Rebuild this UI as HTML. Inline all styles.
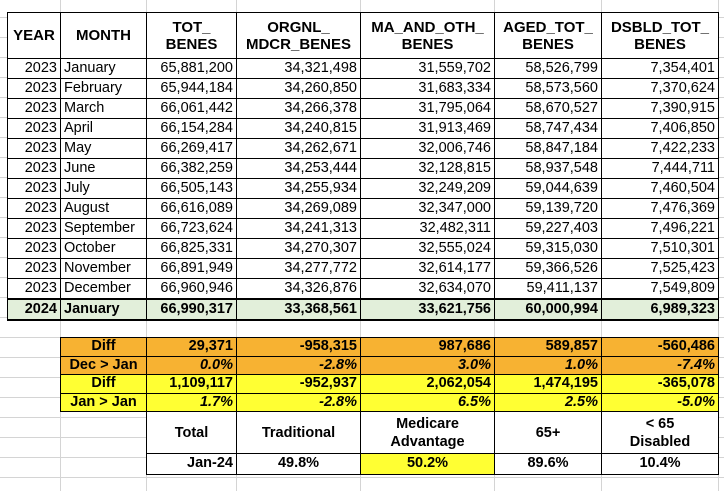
<!DOCTYPE html>
<html><head><style>
body{margin:0;width:724px;height:491px;overflow:hidden;background:#fff;position:relative;font-family:"Liberation Sans",Arial,sans-serif;}
.grid{position:absolute;left:0;top:0;width:724px;height:491px;
background-image:linear-gradient(#d4d4d4 1px,transparent 1px);background-size:100% 20px;background-position:0 -3px;}
.v{position:absolute;top:0;height:491px;width:1px;background:#d4d4d4}
table{position:absolute;border-collapse:collapse;font-size:14.5px;}
td{border:1.5px solid #000;padding:0 3px;white-space:nowrap;}
#main{left:7px;top:12px;background:#fff}
#main td{height:19px;line-height:19px;text-align:right}
#main tr.h td{height:45px;line-height:17px;font-weight:bold;text-align:center;font-size:15px}
#main tr.g td{background:#e2efda;font-weight:bold;border-top:2.5px solid #000;border-bottom:2.5px solid #000}
#main td.m{text-align:left}
#bot{left:60px;top:337px}
#bot td{font-weight:bold;text-align:right;height:17.5px;line-height:17.5px}
#bot td.c{text-align:center}
.o td{background:#f7b232}
.y td{background:#ffff33}
.i{font-style:italic}
#bot tr.l td{height:41px;line-height:18px;text-align:center;background:#fff}
#bot tr.j td{height:20px;text-align:center;background:#fff}
#bot td.n{border:none;background:transparent!important}
</style></head><body>
<div class="grid"></div>
<div class="v" style="left:60px"></div><div class="v" style="left:146px"></div><div class="v" style="left:236px"></div><div class="v" style="left:360px"></div><div class="v" style="left:494px"></div><div class="v" style="left:601px"></div><div class="v" style="left:718px"></div>
<table id="main">
<colgroup><col style="width:53px"><col style="width:86px"><col style="width:90px"><col style="width:124px"><col style="width:134px"><col style="width:107px"><col style="width:117px"></colgroup>
<tr class="h"><td>YEAR</td><td>MONTH</td><td>TOT_<br>BENES</td><td>ORGNL_<br>MDCR_BENES</td><td>MA_AND_OTH_<br>BENES</td><td>AGED_TOT_<br>BENES</td><td>DSBLD_TOT_<br>BENES</td></tr>
<tr><td>2023</td><td class="m">January</td><td>65,881,200</td><td>34,321,498</td><td>31,559,702</td><td>58,526,799</td><td>7,354,401</td></tr>
<tr><td>2023</td><td class="m">February</td><td>65,944,184</td><td>34,260,850</td><td>31,683,334</td><td>58,573,560</td><td>7,370,624</td></tr>
<tr><td>2023</td><td class="m">March</td><td>66,061,442</td><td>34,266,378</td><td>31,795,064</td><td>58,670,527</td><td>7,390,915</td></tr>
<tr><td>2023</td><td class="m">April</td><td>66,154,284</td><td>34,240,815</td><td>31,913,469</td><td>58,747,434</td><td>7,406,850</td></tr>
<tr><td>2023</td><td class="m">May</td><td>66,269,417</td><td>34,262,671</td><td>32,006,746</td><td>58,847,184</td><td>7,422,233</td></tr>
<tr><td>2023</td><td class="m">June</td><td>66,382,259</td><td>34,253,444</td><td>32,128,815</td><td>58,937,548</td><td>7,444,711</td></tr>
<tr><td>2023</td><td class="m">July</td><td>66,505,143</td><td>34,255,934</td><td>32,249,209</td><td>59,044,639</td><td>7,460,504</td></tr>
<tr><td>2023</td><td class="m">August</td><td>66,616,089</td><td>34,269,089</td><td>32,347,000</td><td>59,139,720</td><td>7,476,369</td></tr>
<tr><td>2023</td><td class="m">September</td><td>66,723,624</td><td>34,241,313</td><td>32,482,311</td><td>59,227,403</td><td>7,496,221</td></tr>
<tr><td>2023</td><td class="m">October</td><td>66,825,331</td><td>34,270,307</td><td>32,555,024</td><td>59,315,030</td><td>7,510,301</td></tr>
<tr><td>2023</td><td class="m">November</td><td>66,891,949</td><td>34,277,772</td><td>32,614,177</td><td>59,366,526</td><td>7,525,423</td></tr>
<tr><td>2023</td><td class="m">December</td><td>66,960,946</td><td>34,326,876</td><td>32,634,070</td><td>59,411,137</td><td>7,549,809</td></tr>
<tr class="g"><td>2024</td><td class="m">January</td><td>66,990,317</td><td>33,368,561</td><td>33,621,756</td><td>60,000,994</td><td>6,989,323</td></tr>
</table>
<table id="bot">
<colgroup><col style="width:86px"><col style="width:90px"><col style="width:124px"><col style="width:134px"><col style="width:107px"><col style="width:117px"></colgroup>
<tr class="o"><td class="c">Diff</td><td>29,371</td><td>-958,315</td><td>987,686</td><td>589,857</td><td>-560,486</td></tr>
<tr class="o"><td class="c">Dec &gt; Jan</td><td class="i">0.0%</td><td class="i">-2.8%</td><td class="i">3.0%</td><td class="i">1.0%</td><td class="i">-7.4%</td></tr>
<tr class="y"><td class="c">Diff</td><td>1,109,117</td><td>-952,937</td><td>2,062,054</td><td>1,474,195</td><td>-365,078</td></tr>
<tr class="y"><td class="c">Jan &gt; Jan</td><td class="i">1.7%</td><td class="i">-2.8%</td><td class="i">6.5%</td><td class="i">2.5%</td><td class="i">-5.0%</td></tr>
<tr class="l"><td class="n"></td><td>Total</td><td>Traditional</td><td>Medicare<br>Advantage</td><td>65+</td><td>&lt; 65<br>Disabled</td></tr>
<tr class="j"><td class="n"></td><td style="text-align:right">Jan-24</td><td>49.8%</td><td style="background:#ffff33">50.2%</td><td>89.6%</td><td>10.4%</td></tr>
</table>
</body></html>
